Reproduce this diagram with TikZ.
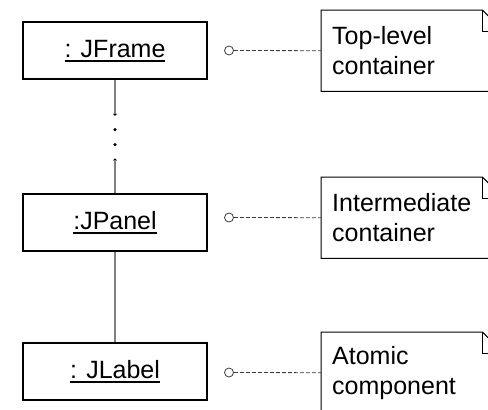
\documentclass[tikz,border=0pt]{standalone}
\usepackage{fontspec}
\setmainfont{Liberation Sans}
\usetikzlibrary{calc}

\definecolor{linkgray}{RGB}{128,128,128}
\definecolor{notegray}{RGB}{60,60,60}

% underlined object name
\newcommand{\objname}[1]{\setbox0\hbox{#1}\rlap{\rule[-4.2pt]{\wd0}{1.4pt}}\box0}

\tikzset{
	object/.style={draw, line width=1.2pt, minimum width=184pt, minimum height=57pt, inner sep=0pt,
		font=\fontsize{25}{30}\selectfont, text height=18pt, text depth=4pt},
	note/.style={minimum width=182pt, minimum height=81pt, text width=160pt, inner xsep=11pt, inner ysep=0pt,
		align=left, anchor=north west, font=\fontsize{25}{30}\selectfont},
	port/.style={circle, draw=notegray, line width=0.8pt, minimum size=9pt, inner sep=0pt},
	tie/.style={draw=notegray, line width=0.8pt, dash pattern=on 4pt off 2pt},
	link/.style={draw=linkgray, line width=1.5pt},
	dot/.style={circle, fill=black, minimum size=3.5pt, inner sep=0pt},
}

\begin{document}
\begin{tikzpicture}[x=1pt,y=1pt,yscale=-1]
	\useasboundingbox (0,0) rectangle (488,410);
	\clip (0,0) rectangle (488,410);
	
	%Objects
	\node[object] (frame) at (115,50.5) {\objname{: JFrame}};
	\node[object] (panel) at (115,222.5) {\objname{:JPanel}};
	\node[object] (label) at (115,371.5) {\objname{: JLabel}};
	
	%Containment chain, elided part shown as dots
	\node[dot] (d1) at (115,114) {};
	\node[dot] (d2) at (115,129.5) {};
	\node[dot] (d3) at (115,144.5) {};
	\node[dot] (d4) at (115,160) {};
	\draw[link] (frame.south) -- (d1.center);
	\draw[link] (d4.center) -- (panel.north);
	\draw[link] (panel) -- (label);
	
	%Notes
	\node[note] (topnote) at (321,10) {Top-level\\container};
	\node[note] (midnote) at (321,177) {Intermediate\\container};
	\node[note] (lownote) at (321,332) {Atomic\\component};
	\foreach \n in {topnote,midnote,lownote} {
		\draw[line width=1pt] (\n.north west) -- ($(\n.north east)+(-21,0)$) -- ($(\n.north east)+(0,21)$)
			-- (\n.south east) -- (\n.south west) -- cycle;
		\draw[line width=1pt] ($(\n.north east)+(-21,0)$) -- ++(0,21) -- ++(21,0);
	}
	
	%Note anchors
	\node[port] (topport) at (229,50.5) {};
	\node[port] (midport) at (229,217.5) {};
	\node[port] (lowport) at (229,372.5) {};
	\draw[tie] (topport) -- (topnote.west);
	\draw[tie] (midport) -- (midnote.west);
	\draw[tie] (lowport) -- (lownote.west);
	
\end{tikzpicture}
\end{document}
